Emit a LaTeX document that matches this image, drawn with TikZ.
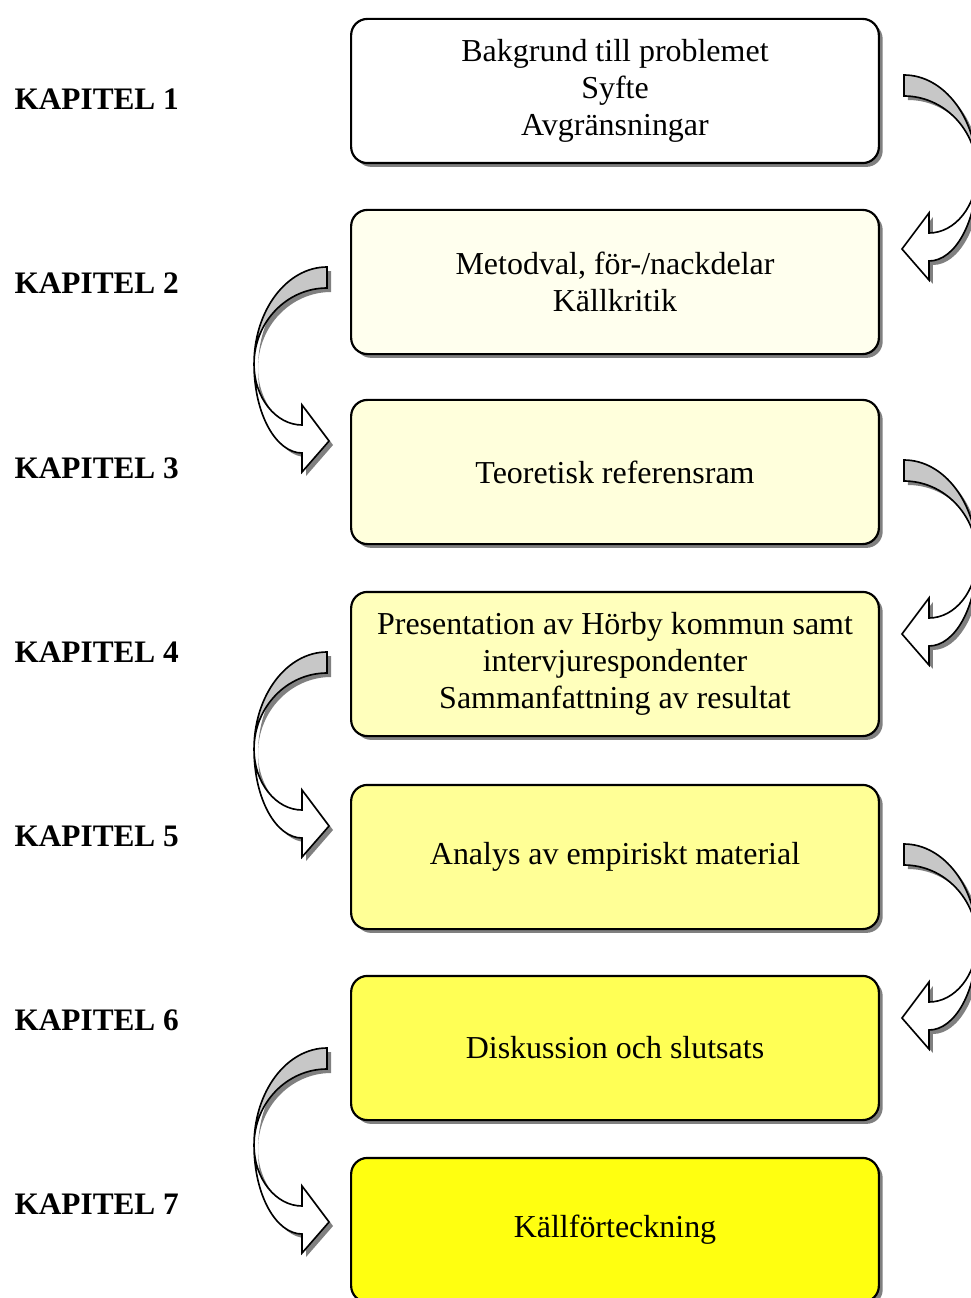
\documentclass[tikz,border=0pt]{standalone}
\usepackage{fontspec}
\setmainfont{Liberation Serif}
\usetikzlibrary{calc}
\usetikzlibrary{shadows}

\definecolor{gul1}{HTML}{FFFFEE}
\definecolor{gul2}{HTML}{FFFFDC}
\definecolor{gul3}{HTML}{FFFFBC}
\definecolor{gul4}{HTML}{FFFF96}
\definecolor{gul5}{HTML}{FFFF55}
\definecolor{gul6}{HTML}{FFFF10}

% band + kropp for the bent block arrow
\newcommand{\pilform}[2]{%
  \path[#2] (-73,97) .. controls (-73,147) and (-51,186) .. (-25,186) -- (-25,205) -- (2,174) -- (-25,138) -- (-25,158) .. controls (-51,158) and (-73,131) .. (-73,97) -- cycle;
  \path[#1] (0,0) -- (0,21) .. controls (-40,21) and (-73,55) .. (-73,97) .. controls (-73,43) and (-40,0) .. (0,0) -- cycle;
}
\newcommand{\kapitelpil}[1]{%
  \pilform{fill=black!50, shift={(#1,4)}}{fill=black!50, shift={(#1,4)}}
  \pilform{draw, semithick, fill=black!22}{draw, semithick, fill=white}
}

\begin{document}
\begin{tikzpicture}[
			x=0.3676pt, y=-0.3676pt,
			box/.style={draw, line width=0.8pt, rounded corners=6pt, minimum width=194pt, minimum height=53pt, align=center, font=\fontsize{11.75pt}{13.7pt}\selectfont, drop shadow={shadow xshift=1.4pt, shadow yshift=-1.4pt, fill=black!50, opacity=1}},
			kapitel/.style={anchor=west, inner sep=0pt, font=\bfseries\fontsize{11.5pt}{13.8pt}\selectfont}
		]
			\useasboundingbox (0,0) rectangle (970,1298);
			\node[box, fill=white] (b1) at (615,91) {Bakgrund till problemet\\Syfte\\Avgränsningar};
			\node[box, fill=gul1] (b2) at (615,282) {Metodval, för-/nackdelar\\Källkritik};
			\node[box, fill=gul2] (b3) at (615,472) {Teoretisk referensram};
			\node[box, fill=gul3] (b4) at (615,664) {Presentation av Hörby kommun samt\\intervjurespondenter\\Sammanfattning av resultat};
			\node[box, fill=gul4] (b5) at (615,857) {Analys av empiriskt material};
			\node[box, fill=gul5] (b6) at (615,1048) {Diskussion och slutsats};
			\node[box, fill=gul6] (b7) at (615,1230) {Källförteckning};

			\node[kapitel] (k1) at (14,99) {KAPITEL 1};
			\node[kapitel] (k2) at (14,283) {KAPITEL 2};
			\node[kapitel] (k3) at (14,468) {KAPITEL 3};
			\node[kapitel] (k4) at (14,652) {KAPITEL 4};
			\node[kapitel] (k5) at (14,836) {KAPITEL 5};
			\node[kapitel] (k6) at (14,1020) {KAPITEL 6};
			\node[kapitel] (k7) at (14,1204) {KAPITEL 7};

			% bent arrows, right side
			\begin{scope}[shift={($(b1.east)+(24,-16)$)}, xscale=-1] \kapitelpil{-4} \end{scope}
			\begin{scope}[shift={($(b3.east)+(24,-12)$)}, xscale=-1] \kapitelpil{-4} \end{scope}
			\begin{scope}[shift={($(b5.east)+(24,-13)$)}, xscale=-1] \kapitelpil{-4} \end{scope}
			% bent arrows, left side
			\begin{scope}[shift={($(b2.west)+(-23,-15)$)}] \kapitelpil{4} \end{scope}
			\begin{scope}[shift={($(b4.west)+(-23,-12)$)}] \kapitelpil{4} \end{scope}
			\begin{scope}[shift={($(b6.west)+(-23,0)$)}] \kapitelpil{4} \end{scope}
		\end{tikzpicture}
\end{document}
